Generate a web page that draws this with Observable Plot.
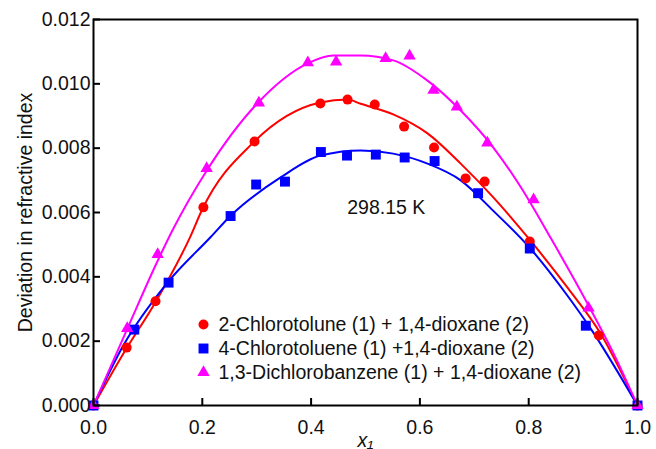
<!DOCTYPE html>
<html>
<head>
<meta charset="utf-8">
<script src="https://cdn.jsdelivr.net/npm/d3@7"></script>
<script src="https://cdn.jsdelivr.net/npm/@observablehq/plot@0.6"></script>
<style>
  html, body { margin: 0; padding: 0; background: #fff; }
  #chart { width: 656px; height: 449px; }
</style>
</head>
<body>
<div id="chart"></div>
<script>
// ---- data ----
const seriesNames = [
  "2-Chlorotolune (1) + 1,4-dioxane (2)",
  "4-Chlorotoluene (1) +1,4-dioxane (2)",
  "1,3-Dichlorobanzene (1) + 1,4-dioxane (2)"
];
const seriesColors = ["#ff0000", "#0000ff", "#ff00ff"];
const seriesSymbols = ["circle", "square", "triangle"];

// experimental points
const x2CT = [0, 0.061, 0.114, 0.202, 0.296, 0.417, 0.467, 0.517, 0.571, 0.626, 0.684, 0.719, 0.802, 0.929, 1];
const y2CT = [0, 0.0018, 0.00324, 0.00616, 0.00821, 0.00939, 0.00951, 0.00936, 0.00867, 0.00802, 0.00706, 0.00696, 0.0051, 0.00218, 0];

const x4CT = [0, 0.075, 0.138, 0.252, 0.299, 0.352, 0.418, 0.466, 0.519, 0.572, 0.627, 0.707, 0.802, 0.905, 1];
const y4CT = [0, 0.00236, 0.00382, 0.00589, 0.00687, 0.00696, 0.00788, 0.00777, 0.0078, 0.00771, 0.0076, 0.0066, 0.00488, 0.00248, 0];

const xDCB = [0, 0.062, 0.118, 0.208, 0.304, 0.394, 0.446, 0.537, 0.581, 0.625, 0.668, 0.724, 0.809, 0.910, 1];
const yDCB = [0, 0.0024, 0.0047, 0.00737, 0.00941, 0.01066, 0.01068, 0.01079, 0.01087, 0.0098, 0.00928, 0.00816, 0.0064, 0.00303, 0];

// fitted curves
const fx2CT = [0, 0.055, 0.118, 0.178, 0.2, 0.294, 0.417, 0.467, 0.491, 0.551, 0.614, 0.675, 0.735, 0.803, 0.871, 0.932, 1];
const fy2CT = [0, 0.00162, 0.00333, 0.00525, 0.0061, 0.00818, 0.00942, 0.00951, 0.00938, 0.00905, 0.00846, 0.00752, 0.00647, 0.00513, 0.00367, 0.00224, 0];

const fx4CT = [0, 0.055, 0.136, 0.215, 0.252, 0.344, 0.417, 0.491, 0.551, 0.614, 0.675, 0.735, 0.803, 0.871, 0.914, 1];
const fy4CT = [0, 0.00187, 0.00382, 0.00523, 0.0059, 0.00709, 0.00777, 0.00793, 0.00783, 0.00752, 0.0070, 0.00605, 0.00488, 0.00342, 0.00239, 0];

const fxDCB = [0, 0.0625, 0.118, 0.145, 0.208, 0.301, 0.393, 0.441, 0.491, 0.551, 0.614, 0.675, 0.735, 0.785, 0.840, 0.908, 0.956, 1];
const fyDCB = [0, 0.0024, 0.0045, 0.00544, 0.0073, 0.00939, 0.01063, 0.01088, 0.01088, 0.01073, 0.0101, 0.00917, 0.00802, 0.0068, 0.00522, 0.00317, 0.00162, 0];

const xTicks = [0, 0.2, 0.4, 0.6, 0.8, 1.0];
const yTicks = [0, 0.002, 0.004, 0.006, 0.008, 0.010, 0.012];
const annotation = {x: 0.4664, y: 0.00614, text: "298.15 K"};
const yLabel = "Deviation in refractive index";
const xLabel = "x\u2081";

// ---- build tables ----
const pts = [[x2CT, y2CT], [x4CT, y4CT], [xDCB, yDCB]].map(([xs, ys], s) =>
  xs.map((x, i) => ({x, y: ys[i], s})));
const fits = [[fx2CT, fy2CT], [fx4CT, fy4CT], [fxDCB, fyDCB]].map(([xs, ys], s) =>
  xs.map((x, i) => ({x, y: ys[i], s})));
const symbolR = [5, 5.6, 4.6];

const FONT = "Liberation Sans, Arial, Helvetica, sans-serif";
const FS = 19.5;

const marks = [];
// fitted lines
fits.forEach((f, s) => marks.push(Plot.line(f, {x: "x", y: "y", stroke: seriesColors[s], strokeWidth: 2, curve: "monotone-x"})));
// points
pts.forEach((p, s) => marks.push(Plot.dot(p, {x: "x", y: "y", fill: seriesColors[s], symbol: seriesSymbols[s], r: symbolR[s]})));
// frame & axes
marks.push(Plot.frame({stroke: "black", strokeWidth: 2}));
marks.push(Plot.axisX({ticks: xTicks, tickFormat: d3.format(".1f"), tickSize: -7, tickPadding: 22, strokeWidth: 2, fontSize: FS, fill: "#111", label: null}));
marks.push(Plot.axisY({ticks: yTicks, tickFormat: d3.format(".3f"), tickSize: -7, tickPadding: 10, strokeWidth: 2, fontSize: FS, fill: "#111", label: null}));
// axis labels
marks.push(Plot.text([yLabel], {text: d => d, x: null, y: null, frameAnchor: "left", dx: -62, rotate: -90, textAnchor: "middle", lineAnchor: "bottom", fontSize: FS, fill: "#111"}));
marks.push(Plot.text([xLabel], {text: d => d, x: null, y: null, frameAnchor: "bottom", dy: 41, textAnchor: "middle", lineAnchor: "bottom", fontSize: FS, fontStyle: "italic", fill: "#111"}));
// annotation
marks.push(Plot.text([annotation], {x: "x", y: "y", text: "text", textAnchor: "start", lineAnchor: "middle", fontSize: FS, fill: "#111"}));
// legend
seriesNames.forEach((name, s) => {
  const dy = 305 + s * 24;
  marks.push(Plot.dot([name], {x: null, y: null, frameAnchor: "top-left", dx: 110, dy: dy, fill: seriesColors[s], symbol: seriesSymbols[s], r: symbolR[s]}));
  marks.push(Plot.text([name], {x: null, y: null, text: d => d, frameAnchor: "top-left", dx: 125, dy: dy, textAnchor: "start", lineAnchor: "middle", fontSize: FS, fill: "#111"}));
});

const chart = Plot.plot({
  width: 656,
  height: 449,
  marginLeft: 93,
  marginRight: 19,
  marginTop: 19,
  marginBottom: 44,
  style: {fontFamily: FONT, fontSize: FS + "px", background: "#fff", overflow: "visible"},
  x: {domain: [0, 1]},
  y: {domain: [0, 0.012]},
  marks
});
document.getElementById("chart").appendChild(chart);
</script>
</body>
</html>
